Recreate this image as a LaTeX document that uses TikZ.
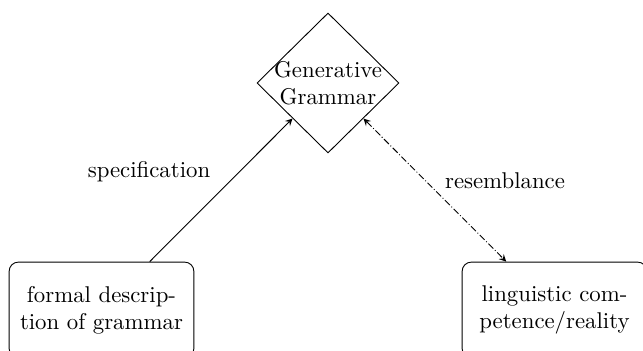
\documentclass[tikz,border=0pt]{standalone}
\usetikzlibrary{shapes.geometric,arrows}
\begin{document}
\begin{tikzpicture}[x=0.43857pt,y=-0.43857pt,
  gbox/.style={draw,rounded corners=4pt,text width=73pt,align=center,inner sep=4pt,minimum height=42pt},
  gdiam/.style={draw,diamond,inner sep=0pt,minimum width=62.3pt,minimum height=61.4pt,align=center},
  lbl/.style={inner sep=0pt}]
\useasboundingbox (0,0) rectangle (643,351);
\clip (0,0) rectangle (643,351);
\node[gdiam] (gg) at (328,83) {\makebox[0pt]{Generative}\\\makebox[0pt]{Grammar}};
\node[gbox] (fd) at (101.5,310) {formal descrip-\\tion of grammar};
\node[gbox] (lc) at (554.5,310) {linguistic com-\\petence/reality};
\draw[-stealth] (fd) -- (gg);
\draw[stealth-stealth,densely dash dot] (gg) -- (lc);
\node[lbl] (spec) at (149,172) {specification};
\node[lbl] (res) at (505,181) {resemblance};
\end{tikzpicture}
\end{document}
